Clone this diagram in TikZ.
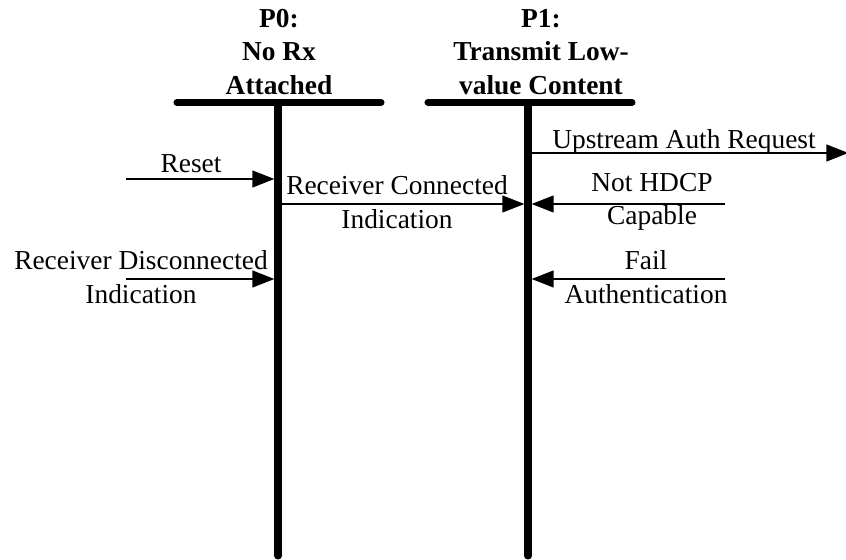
\documentclass[tikz,border=0pt]{standalone}
\usepackage{fontspec}
\setmainfont{Liberation Serif}
\usetikzlibrary{arrows.meta}

\begin{document}
\begin{tikzpicture}[
    lifeline/.style = {line width = 5pt, line cap = round},
    statebar/.style = {line width = 5pt, line cap = round},
    msg/.style = {line width = 1.2pt,
      -{Triangle[length = 0.55cm, width = 0.42cm]},
      shorten > = 0.09cm},
    statebox/.style = {align = center, inner sep = 0pt,
      font = \bfseries\fontsize{19.5}{23.8}\selectfont},
    msgtext/.style = {align = center, inner sep = 0pt,
      font = \fontsize{19.5}{23.8}\selectfont}
  ]
  \useasboundingbox (0,0) rectangle (21.15,14);

% P0 state
  \node[statebox] (p0) at (6.975,12.7) {P0:\\No Rx\\Attached};
  \coordinate (p0barl) at (4.425,11.44);
  \coordinate (p0barr) at (9.525,11.44);
  \coordinate (p0top) at (6.95,11.44);
  \coordinate (p0bot) at (6.95,0.1);
  \draw[statebar] (p0barl) -- (p0barr);
  \draw[lifeline] (p0top) -- (p0bot);

% P1 state
  \node[statebox] (p1) at (13.525,12.7) {P1:\\Transmit Low-\\value Content};
  \coordinate (p1barl) at (10.7,11.44);
  \coordinate (p1barr) at (15.8,11.44);
  \coordinate (p1top) at (13.2,11.44);
  \coordinate (p1bot) at (13.2,0.1);
  \draw[statebar] (p1barl) -- (p1barr);
  \draw[lifeline] (p1top) -- (p1bot);

% free ends of the messages
  \coordinate (resetin) at (3.15,9.525);
  \coordinate (discin) at (3.15,7.025);
  \coordinate (authout) at (21.3,10.175);
  \coordinate (hdcpin) at (18.125,8.9);
  \coordinate (failin) at (18.125,7.025);

% messages
  \draw[msg] (resetin) -- (resetin -| p0top);
  \draw[msg] (discin) -- (discin -| p0top);
  \draw[msg] (hdcpin -| p0top) -- (hdcpin -| p1top);
  \draw[msg] (authout -| p1top) -- (authout);
  \draw[msg] (hdcpin) -- (hdcpin -| p1top);
  \draw[msg] (failin) -- (failin -| p1top);

% message texts
  \node[msgtext, anchor = base] (reset) at (4.775,9.675) {Reset};
  \node[msgtext] (disc) at (3.525,7.075) {Receiver Disconnected\\Indication};
  \node[msgtext] (conn) at (9.925,8.95) {Receiver Connected\\Indication};
  \node[msgtext, anchor = base] (auth) at (17.1,10.275) {Upstream Auth Request};
  \node[msgtext] (hdcp) at (16.3,8.95) {Not HDCP\\Capable};
  \node[msgtext] (fail) at (16.15,7.075) {Fail\\Authentication};

\end{tikzpicture}
\end{document}
